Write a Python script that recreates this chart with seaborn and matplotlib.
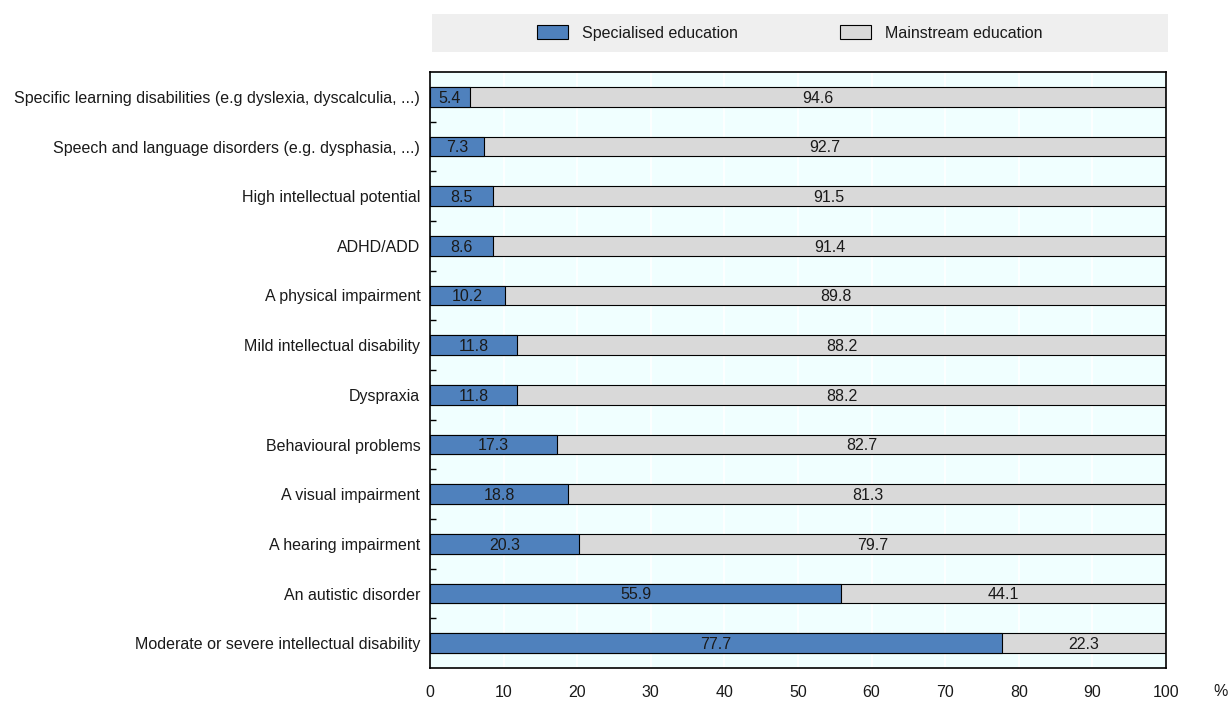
import matplotlib
matplotlib.use("Agg")
import matplotlib.pyplot as plt
from matplotlib.patches import Patch, Rectangle
from matplotlib.ticker import FixedLocator
import seaborn as sns
import pandas as pd

categories = [
    "Specific learning disabilities (e.g dyslexia, dyscalculia, ...)",
    "Speech and language disorders (e.g. dysphasia, ...)",
    "High intellectual potential",
    "ADHD/ADD",
    "A physical impairment",
    "Mild intellectual disability",
    "Dyspraxia",
    "Behavioural problems",
    "A visual impairment",
    "A hearing impairment",
    "An autistic disorder",
    "Moderate or severe intellectual disability",
]
specialised = [5.4, 7.3, 8.5, 8.6, 10.2, 11.8, 11.8, 17.3, 18.8, 20.3, 55.9, 77.7]
mainstream = [94.6, 92.7, 91.5, 91.4, 89.8, 88.2, 88.2, 82.7, 81.3, 79.7, 44.1, 22.3]
x_ticks = [0, 10, 20, 30, 40, 50, 60, 70, 80, 90, 100]

BLUE = "#4f81bd"
GREY = "#d9d9d9"
TEXT = "#1a1a1a"
FS = 11.5

sns.set_theme(style="white")
plt.rcParams["font.family"] = ["Liberation Sans", "DejaVu Sans"]

df = pd.DataFrame({
    "category": categories,
    "specialised": specialised,
    "mainstream": mainstream,
})
df["total"] = df["specialised"] + df["mainstream"]

fig = plt.figure(figsize=(12.3, 7.02), dpi=100)
ax = fig.add_axes([430 / 1230, 1 - 668 / 702, 736 / 1230, 596 / 702])
ax.set_facecolor("#f0ffff")

sns.barplot(data=df, y="category", x="total", color=GREY, orient="h",
            width=0.4, edgecolor="black", linewidth=0.8, ax=ax, saturation=1)
sns.barplot(data=df, y="category", x="specialised", color=BLUE, orient="h",
            width=0.4, edgecolor="black", linewidth=0.8, ax=ax, saturation=1)

# value labels centred in each segment
for i, (s, m) in enumerate(zip(specialised, mainstream)):
    ax.text(s / 2, i + 0.03, f"{s:.1f}", ha="center", va="center", fontsize=FS,
            color=TEXT)
    ax.text(s + m / 2, i + 0.03, f"{m:.1f}", ha="center", va="center",
            fontsize=FS, color=TEXT)

ax.set_xlim(0, 100)
ax.set_ylim(len(categories) - 0.5, -0.5)
ax.xaxis.set_major_locator(FixedLocator(x_ticks))
ax.grid(axis="x", color="white", linewidth=1.2)
ax.set_axisbelow(True)

ax.set_xlabel("")
ax.set_ylabel("")
ax.tick_params(axis="x", which="major", direction="in", length=4, width=1,
               color="black", pad=12, labelsize=FS, labelcolor=TEXT)
ax.tick_params(axis="y", which="major", length=0, pad=7, labelsize=FS,
               labelcolor=TEXT)
ax.yaxis.set_minor_locator(FixedLocator([i + 0.5 for i in range(len(categories) - 1)]))
ax.tick_params(axis="y", which="minor", direction="in", length=4, width=1,
               color="black", left=True)

for sp in ax.spines.values():
    sp.set_visible(True)
    sp.set_color("black")
    sp.set_linewidth(1.2)

fig.text(1221 / 1230, 1 - 692 / 702, "%", ha="center", va="center",
         fontsize=FS, color=TEXT)

# legend band
fig.patches.append(Rectangle((432 / 1230, 1 - 52 / 702), (1168 - 432) / 1230,
                             38 / 702, transform=fig.transFigure,
                             facecolor="#efefef", edgecolor="none", zorder=0))
handles = [Patch(facecolor=BLUE, edgecolor="black", linewidth=0.8,
                 label="Specialised education"),
           Patch(facecolor=GREY, edgecolor="black", linewidth=0.8,
                 label="Mainstream education")]
fig.legend(handles=handles, loc="center", ncol=2, frameon=False,
           bbox_to_anchor=(790 / 1230, 1 - 33 / 702), fontsize=FS,
           handlelength=1.9, handleheight=0.94, columnspacing=6.4,
           handletextpad=0.9, labelcolor=TEXT)

fig.savefig("out.png", dpi=100)
